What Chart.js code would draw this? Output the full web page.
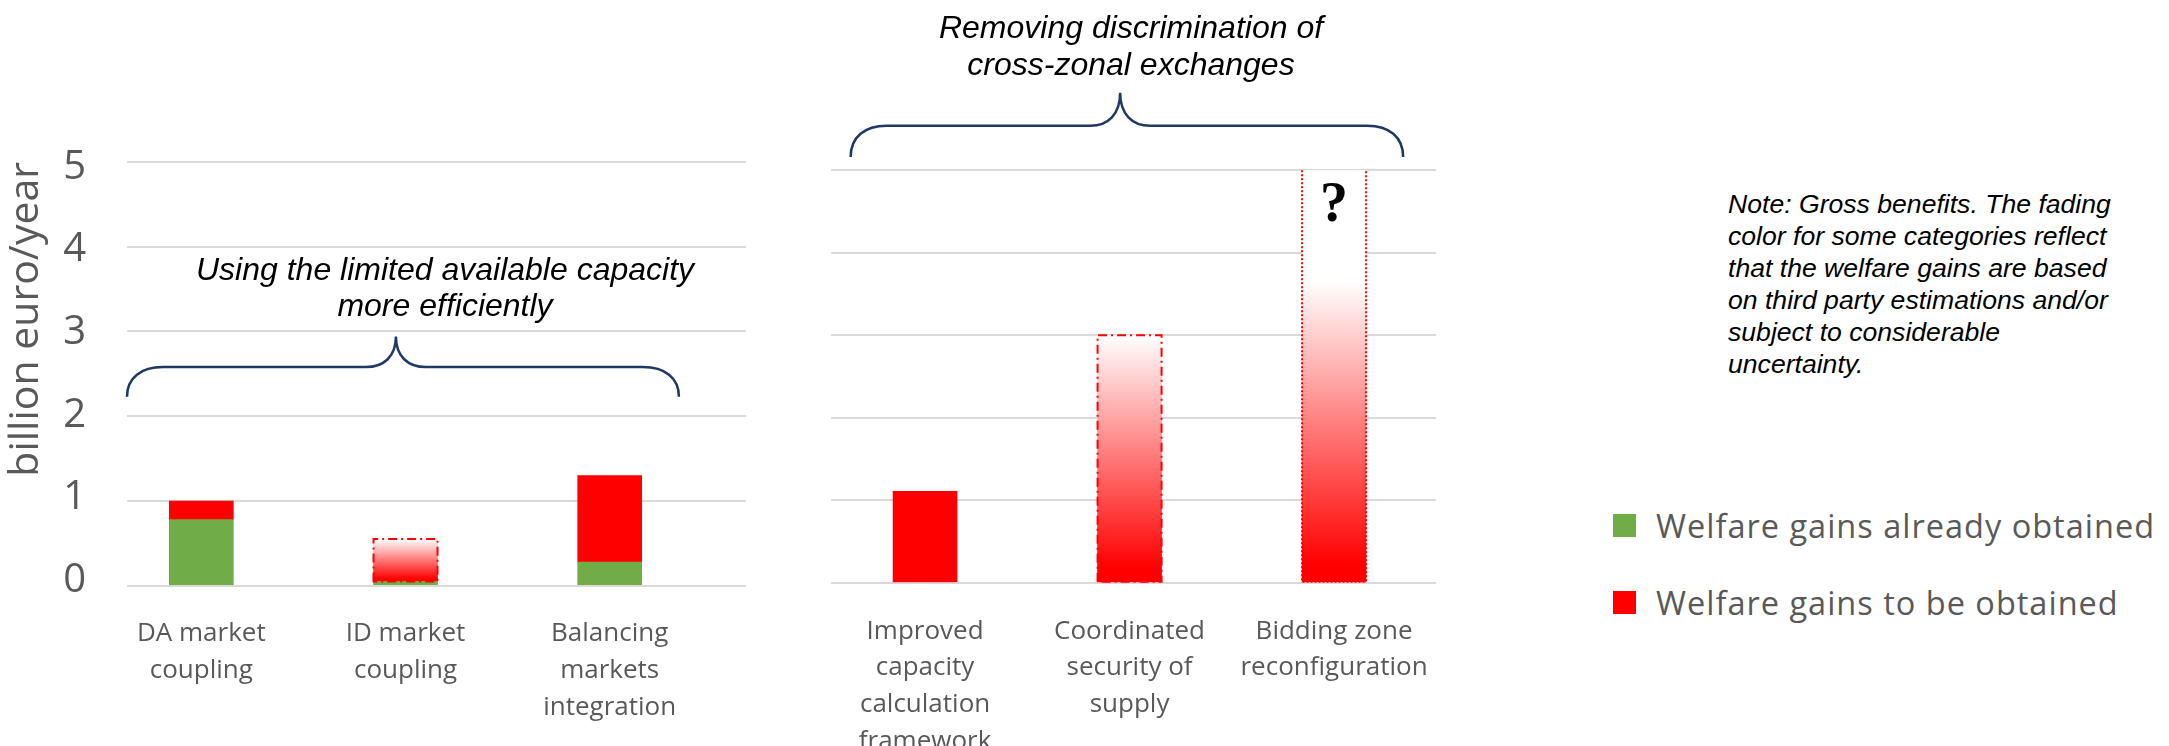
<!DOCTYPE html>
<html>
<head>
<meta charset="utf-8">
<title>Welfare gains</title>
<script src="https://cdn.jsdelivr.net/npm/chart.js@4.4.0/dist/chart.umd.min.js"></script>
<style>
  html, body { margin: 0; padding: 0; background: #fff; }
  #stage { position: relative; width: 2169px; height: 746px; overflow: hidden; }
  #stage canvas { position: absolute; top: 0; }
  #left-chart { left: 0; }
  #right-chart { left: 770px; }
  .group-title {
    position: absolute; width: 600px; text-align: center; white-space: nowrap;
    font: italic 32px "Liberation Sans", Arial, sans-serif; color: #000;
  }
  #title-left { left: 145px; top: 251px; line-height: 36px; }
  #title-right { left: 831px; top: 9px; line-height: 37px; }
  #note {
    position: absolute; left: 1728px; top: 188px; white-space: nowrap;
    font: italic 26.6px "Liberation Sans", Arial, sans-serif; line-height: 32px; color: #000;
  }
  #legend { position: absolute; left: 1613px; top: 503px; font: 32.5px "Open Sans", sans-serif; letter-spacing: 1px; color: #595959; }
  #legend .item { display: flex; align-items: center; height: 44px; margin-bottom: 33px; white-space: nowrap; }
  #legend .swatch { width: 23px; height: 23px; margin-right: 20px; flex: none; }
</style>
</head>
<body>
<div id="stage">
  <canvas id="left-chart" width="770" height="746"></canvas>
  <canvas id="right-chart" width="700" height="746"></canvas>
  <div class="group-title" id="title-left">Using the limited available capacity<br>more efficiently</div>
  <div class="group-title" id="title-right">Removing discrimination of<br>cross-zonal exchanges</div>
  <div id="note">Note: Gross benefits. The fading<br>color for some categories reflect<br>that the welfare gains are based<br>on third party estimations and/or<br>subject to considerable<br>uncertainty.</div>
  <div id="legend"></div>
</div>
<script>
// ---------------------------
// DATA (billion euro/year)
// ---------------------------
const leftCategories = [
  ['DA market', 'coupling'],
  ['ID market', 'coupling'],
  ['Balancing', 'markets', 'integration']
];
const leftObtained = [0.78, 0.05, 0.28];
const leftToObtain = [0.22, 0.50, 1.02];

const rightCategories = [
  ['Improved', 'capacity', 'calculation', 'framework'],
  ['Coordinated', 'security of', 'supply'],
  ['Bidding zone', 'reconfiguration']
];
const rightToObtain = [1.11, 3.0, 5.0];

const yTicks = [0, 1, 2, 3, 4, 5];
const seriesNames = ['Welfare gains already obtained', 'Welfare gains to be obtained'];

// ---------------------------
// STYLE
// ---------------------------
const GREEN = '#70AD47';
const RED = '#FF0000';
const GRID = '#D9D9D9';
const TEXT = '#595959';
const BRACE = '#1F3864';
const LABEL_FONT = '"Open Sans", Lato, sans-serif';

// uncertain bars: fading fill + broken outline
const leftLook = [null, { fade: true, border: 'dashdot' }, null];
const rightLook = [null, { fade: true, border: 'dashdot' }, { fade: true, border: 'dotted', whiteFrom: 3.66 }];

Chart.defaults.font.family = LABEL_FONT;
Chart.defaults.color = TEXT;

// Utility: points on the linear category axis
function toPoints(values) {
  return values.map((v, i) => ({ x: i, y: v }));
}

// Scriptable fill: solid red, or red fading to white for uncertain estimates
function fadeFill(look, bottoms, tops) {
  return function(ctx) {
    const l = look[ctx.dataIndex];
    const chart = ctx.chart;
    if (!l || !l.fade || !chart.chartArea) return RED;
    const y = chart.scales.y;
    const y0 = y.getPixelForValue(bottoms[ctx.dataIndex]);
    const y1 = y.getPixelForValue(l.whiteFrom != null ? l.whiteFrom : tops[ctx.dataIndex]);
    const g = chart.ctx.createLinearGradient(0, y0, 0, y1);
    g.addColorStop(0, RED);
    g.addColorStop(0.06, RED);
    g.addColorStop(1, '#FFFFFF');
    return g;
  };
}

// Dashed / dotted outlines around uncertain bars
const outlinePlugin = {
  id: 'outline',
  afterDatasetsDraw(chart, args, o) {
    const meta = chart.getDatasetMeta(o.datasetIndex);
    const c = chart.ctx;
    const area = chart.chartArea;
    meta.data.forEach((bar, i) => {
      const l = o.look[i];
      if (!l || !l.border) return;
      const p = bar.getProps(['x', 'y', 'base', 'width'], true);
      const x0 = p.x - p.width / 2, x1 = p.x + p.width / 2;
      const top = Math.max(p.y, area.top);
      c.save();
      c.strokeStyle = RED;
      c.lineWidth = 2;
      c.setLineDash(l.border === 'dotted' ? [2, 2] : [9, 4, 2, 4]);
      c.beginPath();
      if (p.y > area.top + 1) {
        c.moveTo(x0, p.base); c.lineTo(x0, top); c.lineTo(x1, top); c.lineTo(x1, p.base); c.closePath();
      } else {
        // bar runs off the top of the axis: leave the top edge open
        c.moveTo(x0, top); c.lineTo(x0, p.base); c.lineTo(x1, p.base); c.lineTo(x1, top);
      }
      c.stroke();
      c.restore();
    });
  }
};

// Curly brace over a group of categories
const bracePlugin = {
  id: 'brace',
  afterDraw(chart, args, o) {
    const xs = chart.scales.x, ys = chart.scales.y, c = chart.ctx;
    const x0 = xs.getPixelForValue(o.from), x1 = xs.getPixelForValue(o.to), xt = xs.getPixelForValue(o.tip);
    const yb = ys.getPixelForValue(o.base), ym = ys.getPixelForValue(o.mid), yt = ys.getPixelForValue(o.top);
    const r = 36, rt = 30;
    c.save();
    c.strokeStyle = BRACE;
    c.lineWidth = 2.5;
    c.beginPath();
    c.moveTo(x0, yb);
    c.bezierCurveTo(x0, ym + (yb - ym) * 0.35, x0 + r * 0.4, ym, x0 + r, ym);
    c.lineTo(xt - rt, ym);
    c.bezierCurveTo(xt - rt * 0.4, ym, xt, ym - (ym - yt) * 0.35, xt, yt);
    c.bezierCurveTo(xt, ym - (ym - yt) * 0.35, xt + rt * 0.4, ym, xt + rt, ym);
    c.lineTo(x1 - r, ym);
    c.bezierCurveTo(x1 - r * 0.4, ym, x1, ym + (yb - ym) * 0.35, x1, yb);
    c.stroke();
    c.restore();
  }
};

// Text mark inside a bar (the "?")
const markPlugin = {
  id: 'mark',
  afterDatasetsDraw(chart, args, o) {
    if (!o.text) return;
    const bar = chart.getDatasetMeta(o.datasetIndex).data[o.index];
    const c = chart.ctx;
    c.save();
    c.font = 'bold 56px "Liberation Serif", "Times New Roman", serif';
    c.fillStyle = '#000';
    c.textAlign = 'center';
    c.textBaseline = 'alphabetic';
    c.fillText(o.text, bar.x, chart.scales.y.getPixelForValue(o.at));
    c.restore();
  }
};

function buildOptions(cfg) {
  const scales = {
    x: {
      type: 'linear',
      stacked: true,
      offset: false,
      min: cfg.xMin,
      max: cfg.xMax,
      grid: { display: false },
      border: { display: false },
      afterBuildTicks: (axis) => { axis.ticks = cfg.categories.map((_, i) => ({ value: i })); },
      afterFit: (axis) => { axis.height = cfg.xHeight; },
      ticks: {
        autoSkip: false,
        maxRotation: 0,
        minRotation: 0,
        padding: 22,
        color: TEXT,
        font: { size: 26, lineHeight: 36.7 / 26 },
        callback: (value) => cfg.categories[value]
      }
    },
    // value axis: carries the bars and the gridlines
    y: {
      stacked: true,
      min: 0,
      max: 5,
      afterBuildTicks: (axis) => { axis.ticks = yTicks.map(v => ({ value: v })); },
      afterFit: (axis) => { axis.width = 0; },
      grid: { color: GRID, lineWidth: 2, drawTicks: false },
      border: { display: false },
      ticks: { display: false }
    }
  };
  if (cfg.labelAxis) {
    // the printed tick numbers sit on a slightly tighter spacing than the gridlines
    scales.yLabels = {
      type: 'linear',
      position: 'left',
      min: cfg.labelAxis.min,
      max: cfg.labelAxis.max,
      afterBuildTicks: (axis) => { axis.ticks = yTicks.map(v => ({ value: v })); },
      afterFit: (axis) => { axis.width = cfg.yWidth; },
      grid: { display: false, drawTicks: false },
      border: { display: false },
      ticks: { padding: 41, color: TEXT, font: { size: 40 } },
      title: {
        display: true,
        text: 'billion euro/year',
        align: 'end',
        color: TEXT,
        font: { size: 41 },
        padding: { top: 2, bottom: 0 }
      }
    };
  }
  return {
    responsive: false,
    animation: false,
    devicePixelRatio: 1,
    events: [],
    layout: { padding: cfg.padding },
    plugins: {
      legend: { display: false },
      tooltip: { enabled: false },
      outline: { datasetIndex: cfg.fadeDataset, look: cfg.look },
      brace: cfg.brace,
      mark: cfg.mark || {}
    },
    scales: scales
  };
}

const leftTotals = leftObtained.map((v, i) => v + leftToObtain[i]);

const leftChart = new Chart(document.getElementById('left-chart'), {
  type: 'bar',
  data: {
    datasets: [
      { label: seriesNames[0], data: toPoints(leftObtained), backgroundColor: GREEN, legendColor: GREEN, barThickness: 64 },
      { label: seriesNames[1], data: toPoints(leftToObtain), backgroundColor: fadeFill(leftLook, leftObtained, leftTotals), legendColor: RED, barThickness: 64 }
    ]
  },
  options: buildOptions({
    categories: leftCategories,
    padding: { left: 0, right: 24, top: 162, bottom: 0 },
    xMin: -0.364, xMax: 2.6675,
    xHeight: 746 - 585.7,
    yWidth: 127,
    labelAxis: { min: -0.064, max: 5.065 },
    fadeDataset: 1,
    look: leftLook,
    brace: { from: -0.364, to: 2.339, tip: 0.953, base: 2.23, mid: 2.58, top: 2.94 }
  }),
  plugins: [outlinePlugin, bracePlugin, markPlugin]
});

const rightChart = new Chart(document.getElementById('right-chart'), {
  type: 'bar',
  data: {
    datasets: [
      { label: seriesNames[1], data: toPoints(rightToObtain), backgroundColor: fadeFill(rightLook, rightToObtain.map(() => 0), rightToObtain), barThickness: 64 }
    ]
  },
  options: buildOptions({
    categories: rightCategories,
    padding: { left: 61, right: 34, top: 170.3, bottom: 0 },
    xMin: -0.46, xMax: 2.4985,
    xHeight: 746 - 582.8,
    fadeDataset: 0,
    look: rightLook,
    brace: { from: -0.364, to: 2.338, tip: 0.954, base: 5.16, mid: 5.54, top: 5.94 },
    mark: { datasetIndex: 0, index: 2, text: '?', at: 4.39 }
  }),
  plugins: [outlinePlugin, bracePlugin, markPlugin]
});

// HTML legend from the left chart's datasets
const legendEl = document.getElementById('legend');
leftChart.data.datasets.forEach(function(ds) {
  const item = document.createElement('div');
  item.className = 'item';
  const sw = document.createElement('span');
  sw.className = 'swatch';
  sw.style.background = ds.legendColor;
  const label = document.createElement('span');
  label.textContent = ds.label;
  item.appendChild(sw);
  item.appendChild(label);
  legendEl.appendChild(item);
});
</script>
</body>
</html>
